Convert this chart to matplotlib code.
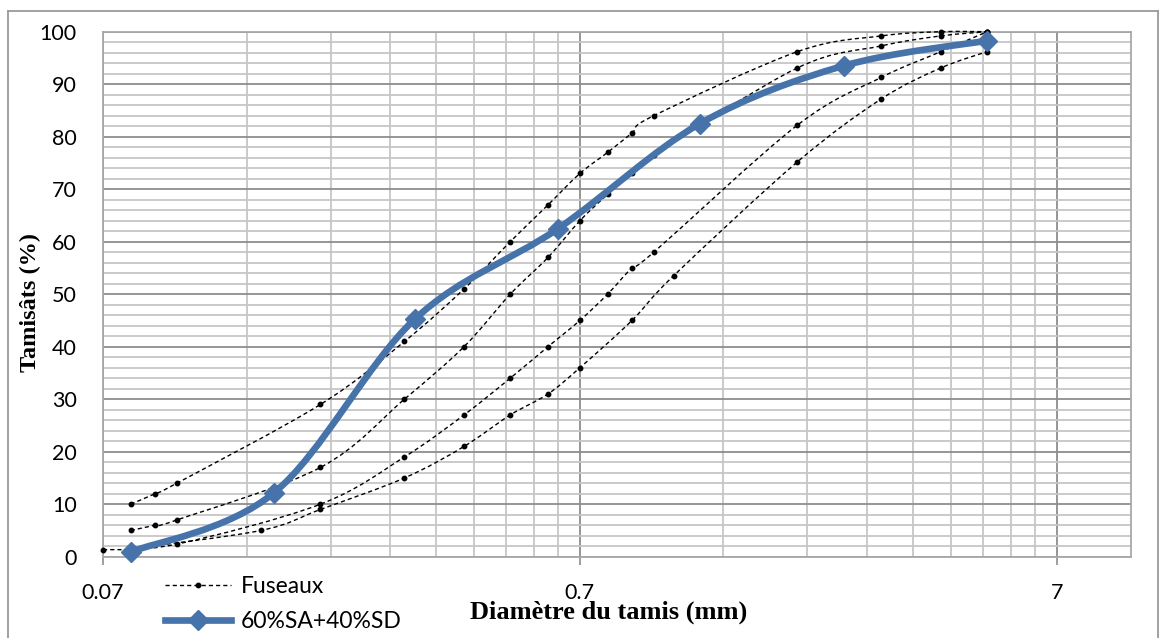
import numpy as np
import matplotlib
matplotlib.use("Agg")
import matplotlib.pyplot as plt
from matplotlib.path import Path
from matplotlib.patches import PathPatch
from matplotlib.lines import Line2D
from matplotlib.ticker import FixedLocator, NullFormatter, FixedFormatter

# ---------------- data ----------------
main_label = "60%SA+40%SD"
main_sizes = [0.08, 0.16, 0.315, 0.63, 1.25, 2.5, 5.0]
main_pass = [0.9, 12.2, 45.2, 62.5, 82.5, 93.5, 98.3]

fuseau_label = "Fuseaux"
fa_sizes = [0.08, 0.09, 0.1, 0.2, 0.3, 0.4, 0.5, 0.6, 0.7, 0.8, 0.9, 1.0, 2.0, 3.0, 4.0, 5.0]
fa_pass = [10, 12, 14, 29, 41, 51, 60, 67, 73, 77, 80.7, 84, 96.2, 99.2, 100, 100]
fb_sizes = [0.08, 0.09, 0.1, 0.2, 0.3, 0.4, 0.5, 0.6, 0.7, 0.8, 0.9, 1.0, 2.0, 3.0, 4.0, 5.0]
fb_pass = [5, 6, 7, 17, 30, 40, 50, 57, 64, 69, 73, 76.5, 93.1, 97.3, 99.2, 100]
fc_sizes = [0.07, 0.1, 0.2, 0.3, 0.4, 0.5, 0.6, 0.7, 0.8, 0.9, 1.0, 2.0, 3.0, 4.0, 5.0]
fc_pass = [1.3, 2.4, 10, 19, 27, 34, 40, 45, 50, 55, 58, 82.2, 91.3, 96.2, 100]
fd_sizes = [0.08, 0.15, 0.2, 0.3, 0.4, 0.5, 0.6, 0.7, 0.9, 1.1, 2.0, 3.0, 4.0, 5.0]
fd_pass = [1.5, 5, 9, 15, 21, 27, 31, 36, 45, 53.5, 75.2, 87.2, 93.1, 96.2]

x_major = [0.07, 0.7, 7]
x_major_labels = ["0.07", "0.7", "7"]
y_ticks = list(range(0, 101, 10))
x_label = "Diamètre du tamis (mm)"
y_label = "Tamisâts (%)"

# ---------------- style ----------------
W, H = 1160, 638
BLUE = "#4673a9"
FS = 15.5
LFS = 16.5
fig = plt.figure(figsize=(W / 100, H / 100), dpi=100)
ax = fig.add_axes([103 / W, 1 - 556.7 / H, (1130.7 - 103) / W, (556.7 - 31.7) / H])
ax.set_xscale("log")
ax.set_xlim(0.07, 10.0)
ax.set_ylim(0, 100)

minor_x = [k * b for b in (0.07, 0.7) for k in range(2, 10)]
ax.xaxis.set_major_locator(FixedLocator(x_major))
ax.xaxis.set_major_formatter(FixedFormatter(x_major_labels))
ax.xaxis.set_minor_locator(FixedLocator(minor_x))
ax.xaxis.set_minor_formatter(NullFormatter())
ax.yaxis.set_major_locator(FixedLocator(y_ticks))
ax.yaxis.set_minor_locator(FixedLocator(list(range(0, 101, 2))))

ax.set_axisbelow(True)
ax.grid(which="minor", color="#c6c6c6", lw=1.3)
ax.grid(which="major", color="#8e8e8e", lw=1.3)
for s in ax.spines.values():
    s.set_color("#a8a8a8")
    s.set_linewidth(1.3)

tick_font = "Lato"
ax.tick_params(axis="x", which="major", direction="out", length=6, width=1.2,
               color="#8e8e8e", pad=13, labelsize=FS)
ax.tick_params(axis="x", which="minor", length=0)
ax.tick_params(axis="y", which="both", length=0, pad=19, labelsize=FS)
for lab in ax.get_xticklabels() + ax.get_yticklabels():
    lab.set_fontfamily(tick_font)


def smooth_path(xs, ys):
    P = np.column_stack([np.log10(np.asarray(xs, float)), np.asarray(ys, float)])
    n = len(P)
    verts = [P[0]]
    codes = [Path.MOVETO]
    for i in range(n - 1):
        p0 = P[i - 1] if i > 0 else P[i]
        p1, p2 = P[i], P[i + 1]
        p3 = P[i + 2] if i + 2 < n else P[i + 1]
        c1 = p1 + (p2 - p0) / 6.0
        c2 = p2 - (p3 - p1) / 6.0
        verts += [c1, c2, p2]
        codes += [Path.CURVE4] * 3
    verts = np.array(verts)
    verts[:, 0] = 10 ** verts[:, 0]
    return Path(verts, codes)


DASH = (0, (3, 2.2))
for xs, ys in [(fa_sizes, fa_pass), (fb_sizes, fb_pass), (fc_sizes, fc_pass), (fd_sizes, fd_pass)]:
    ax.add_patch(PathPatch(smooth_path(xs, ys), fill=False, edgecolor="black",
                           lw=1.0, linestyle=DASH, zorder=3, clip_on=False))
    ax.plot(xs, ys, linestyle="none", marker="o", ms=3.2, color="black", zorder=4, clip_on=False)

ax.add_patch(PathPatch(smooth_path(main_sizes, main_pass), fill=False, edgecolor=BLUE,
                       lw=4.8, zorder=5, capstyle="round", joinstyle="round", clip_on=False))
ax.plot(main_sizes, main_pass, linestyle="none", marker="D", ms=10.5, color=BLUE,
        zorder=6, clip_on=False)

# labels
fig.text(609 / W, 1 - 612 / H, x_label, ha="center", va="center", fontsize=19,
         fontweight="bold", fontfamily="Liberation Serif")
fig.text(30 / W, 1 - 302 / H, y_label, ha="center", va="center", rotation=90, fontsize=17.5,
         fontweight="bold", fontfamily="Liberation Serif")

# legend
h1 = Line2D([], [], color="black", lw=1.0, linestyle=DASH, marker="o", ms=3.2)
h2 = Line2D([], [], color=BLUE, lw=4.8, marker="D", ms=10.5)
leg = fig.legend([h1, h2], [fuseau_label, main_label], loc="upper left",
                 bbox_to_anchor=(165 / W, 1 - 576 / H), frameon=False,
                 handlelength=2.9, handletextpad=0.42, labelspacing=0.62,
                 borderpad=0, borderaxespad=0, numpoints=1,
                 prop={"family": tick_font, "size": LFS})

# outer chart frame
fc = "#9a9a9a"
for xs_, ys_ in [([8, 8], [11, H]), ([8, 1158], [11, 11]), ([1158, 1158], [11, H])]:
    fig.add_artist(Line2D([v / W for v in xs_], [1 - v / H for v in ys_],
                          transform=fig.transFigure, color=fc, lw=1.3))

fig.savefig("out.png", dpi=100)
